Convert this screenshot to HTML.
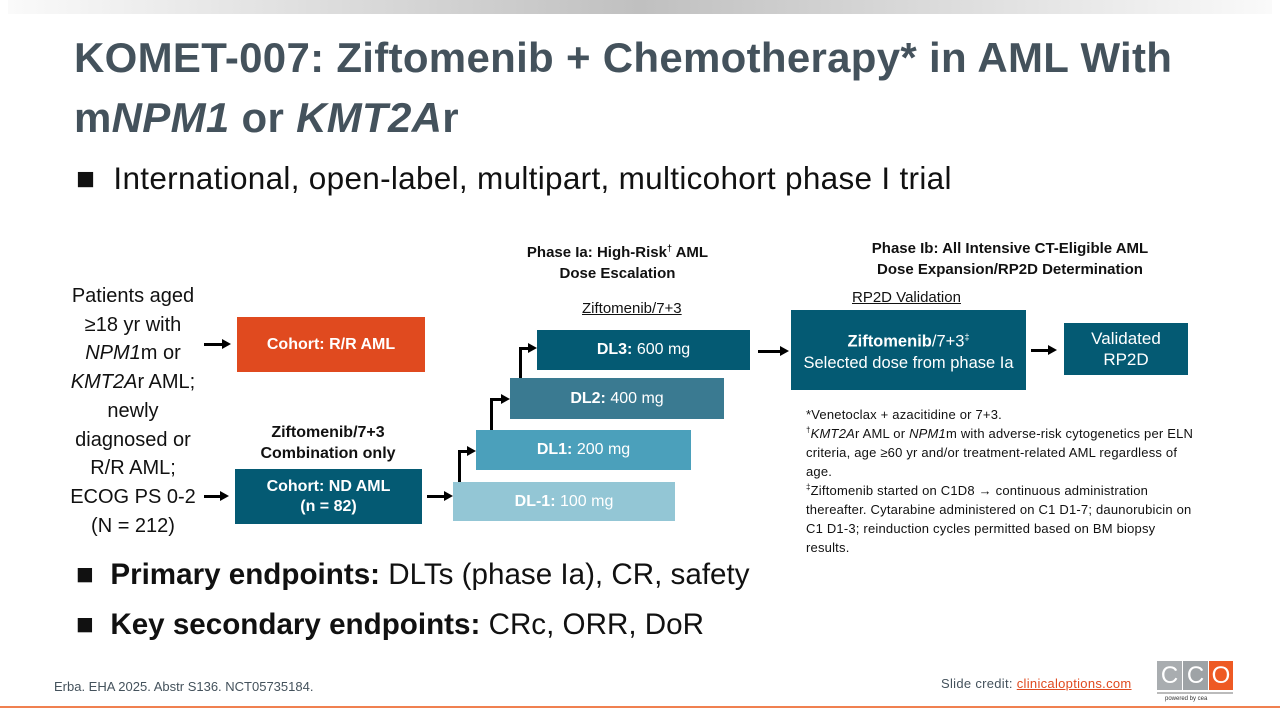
<!DOCTYPE html>
<html><head><meta charset="utf-8"><style>
body{margin:0;width:1280px;height:720px;position:relative;background:#fff;font-family:"Liberation Sans",sans-serif;overflow:hidden}
.a{position:absolute}
.box{position:absolute;color:#fff;display:flex;align-items:center;justify-content:center;text-align:center;font-size:16px}
.c{text-align:center;color:#111}
.h{position:absolute;height:3px;background:#000}
.v{position:absolute;width:3px;background:#000}
.ar{position:absolute;width:0;height:0;border-top:5px solid transparent;border-bottom:5px solid transparent;border-left:9px solid #000}
</style></head><body>
<div class="a" style="left:8px;top:0;width:1264px;height:14px;background:linear-gradient(90deg,#fafafa,#c0c0c0 50%,#fafafa)"></div>
<div class="a" style="left:74px;top:28px;font-size:42px;font-weight:bold;color:#44525c;line-height:60px;letter-spacing:0.3px">KOMET-007: Ziftomenib + Chemotherapy* in AML With<br>m<i>NPM1</i> or <i>KMT2A</i>r</div>
<div class="a" style="left:76px;top:160px;font-size:31.5px;color:#111;letter-spacing:0.3px">■&nbsp;&nbsp;International, open-label, multipart, multicohort phase I trial</div>
<div class="a c" style="left:40px;top:282px;width:186px;font-size:20px;line-height:28.7px">Patients aged<br>≥18 yr with<br><i>NPM1</i>m or<br><i>KMT2A</i>r AML;<br>newly<br>diagnosed or<br>R/R AML;<br>ECOG PS 0-2<br>(N = 212)</div>
<div class="box" style="left:237px;top:317px;width:188px;height:55px;background:#e04a1f;font-weight:bold">Cohort: R/R AML</div>
<div class="a c" style="left:228px;top:422px;width:200px;font-size:16px;font-weight:bold;line-height:21px">Ziftomenib/7+3<br>Combination only</div>
<div class="box" style="left:235px;top:469px;width:187px;height:55px;background:#045a73;font-weight:bold;line-height:20px">Cohort: ND AML<br>(n = 82)</div>
<div class="h" style="left:204px;top:343px;width:20px"></div><div class="ar" style="left:222px;top:339px"></div>
<div class="h" style="left:204px;top:495px;width:18px"></div><div class="ar" style="left:220px;top:491px"></div>
<div class="a c" style="left:505px;top:238px;width:225px;font-size:15px;font-weight:bold;line-height:21px">Phase Ia: High-Risk<sup style="font-size:9px">†</sup> AML<br>Dose Escalation</div>
<div class="a" style="left:582px;top:300px;font-size:15px;text-decoration:underline;color:#111">Ziftomenib/7+3</div>
<div class="box" style="left:453px;top:482px;width:222px;height:39px;background:#93c6d5"><span><b>DL-1:</b> 100 mg</span></div>
<div class="box" style="left:476px;top:430px;width:215px;height:40px;background:#4ba0bb"><span><b>DL1:</b> 200 mg</span></div>
<div class="box" style="left:510px;top:378px;width:214px;height:41px;background:#3a7a91"><span><b>DL2:</b> 400 mg</span></div>
<div class="box" style="left:537px;top:330px;width:213px;height:40px;background:#045a73"><span><b>DL3:</b> 600 mg</span></div>
<div class="h" style="left:427px;top:495px;width:18px"></div><div class="ar" style="left:444px;top:491px"></div>
<div class="v" style="left:458px;top:450px;height:32px"></div><div class="h" style="left:458px;top:450px;width:10px"></div><div class="ar" style="left:467px;top:446px"></div>
<div class="v" style="left:490px;top:398px;height:32px"></div><div class="h" style="left:490px;top:398px;width:12px"></div><div class="ar" style="left:501px;top:394px"></div>
<div class="v" style="left:519px;top:347px;height:31px"></div><div class="h" style="left:519px;top:347px;width:10px"></div><div class="ar" style="left:528px;top:343px"></div>
<div class="h" style="left:758px;top:350px;width:24px"></div><div class="ar" style="left:780px;top:346px"></div>
<div class="a c" style="left:840px;top:238px;width:340px;font-size:15px;font-weight:bold;line-height:21px">Phase Ib: All Intensive CT-Eligible AML<br>Dose Expansion/RP2D Determination</div>
<div class="a" style="left:852px;top:289px;font-size:15px;text-decoration:underline;color:#111">RP2D Validation</div>
<div class="box" style="left:791px;top:310px;width:235px;height:80px;background:#045a73;line-height:22px;font-size:16.5px"><span><b>Ziftomenib</b>/7+3<sup style="font-size:9px">‡</sup><br>Selected dose from phase Ia</span></div>
<div class="h" style="left:1031px;top:349px;width:18px"></div><div class="ar" style="left:1048px;top:345px"></div>
<div class="box" style="left:1064px;top:323px;width:124px;height:52px;background:#045a73;line-height:21px;font-size:17px">Validated<br>RP2D</div>
<div class="a" style="left:806px;top:405px;width:392px;font-size:13px;line-height:19px;color:#111;letter-spacing:0.2px">*Venetoclax + azacitidine or 7+3.<br><sup style="font-size:8px;line-height:0">†</sup><i>KMT2A</i>r AML or <i>NPM1</i>m with adverse-risk cytogenetics per ELN criteria, age ≥60 yr and/or treatment-related AML regardless of age.<br><sup style="font-size:8px;line-height:0">‡</sup>Ziftomenib started on C1D8 → continuous administration thereafter. Cytarabine administered on C1 D1-7; daunorubicin on C1 D1-3; reinduction cycles permitted based on BM biopsy results.</div>
<div class="a" style="left:76px;top:558px;font-size:29.6px;color:#111">■&nbsp;&nbsp;<b>Primary endpoints:</b> DLTs (phase Ia), CR, safety</div>
<div class="a" style="left:76px;top:608px;font-size:29.6px;color:#111">■&nbsp;&nbsp;<b>Key secondary endpoints:</b> CRc, ORR, DoR</div>
<div class="a" style="left:54px;top:679px;font-size:13px;color:#44525c">Erba. EHA 2025. Abstr S136. NCT05735184.</div>
<div class="a" style="left:941px;top:676px;font-size:13px;color:#44525c;letter-spacing:0.3px">Slide credit: <span style="color:#e04a1f;text-decoration:underline">clinicaloptions.com</span></div>
<div class="a" style="left:1157px;top:661px;width:25px;height:29px;background:#a9adb0;color:#fff;font-size:24px;text-align:center;line-height:29px">C</div>
<div class="a" style="left:1183px;top:661px;width:25px;height:29px;background:#9ea3a6;color:#fff;font-size:24px;text-align:center;line-height:29px">C</div>
<div class="a" style="left:1209px;top:661px;width:24px;height:29px;background:#ee5a24;color:#fff;font-size:24px;text-align:center;line-height:29px">O</div>
<div class="a" style="left:1157px;top:692px;width:76px;height:2px;background:#bbb"></div>
<div class="a" style="left:1165px;top:696px;font-size:6px;color:#333">powered by cea</div>
<div class="a" style="left:0;top:706px;width:1280px;height:2px;background:#f08050"></div>
</body></html>
